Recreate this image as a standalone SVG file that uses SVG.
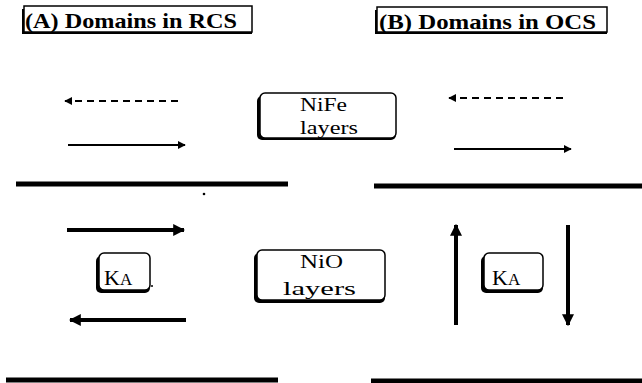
<svg xmlns="http://www.w3.org/2000/svg" width="642" height="383" viewBox="0 0 642 383">
<style>
text{font-family:"Liberation Serif","DejaVu Serif",serif;fill:#000}
.title{font-size:21px;font-weight:bold}
.lbl{font-size:19px}
.box{fill:#fff;stroke:#000;stroke-width:1.5}
.shadow{fill:#000}
.thin{stroke:#000;stroke-width:2;fill:none}
.thick{stroke:#000;stroke-width:4;fill:none}
.layer{stroke:#000;stroke-width:5;fill:none}
</style>
<defs>
<marker id="ah" viewBox="0 0 10 10" refX="9" refY="5" markerWidth="4" markerHeight="4" orient="auto" markerUnits="strokeWidth">
<path d="M0,0 L10,5 L0,10 z" fill="#000"/>
</marker>
<marker id="ahs" viewBox="0 0 10 10" refX="9" refY="5" markerWidth="3" markerHeight="3" orient="auto" markerUnits="strokeWidth">
<path d="M0,0 L10,5 L0,10 z" fill="#000"/>
</marker>
</defs>

<g id="titleA">
<rect x="22" y="9" width="230" height="25" class="shadow"/>
<rect x="24" y="6" width="228" height="26" class="box"/>
<text x="25" y="28" class="title" textLength="212" lengthAdjust="spacingAndGlyphs">(A) Domains in RCS</text>
</g>
<g id="titleB">
<rect x="375" y="10" width="232" height="24" class="shadow"/>
<rect x="377" y="7" width="230" height="25" class="box"/>
<text x="379" y="29" class="title" textLength="217" lengthAdjust="spacingAndGlyphs">(B) Domains in OCS</text>
</g>

<g id="nife">
<rect x="257" y="96" width="139" height="44" rx="5" class="shadow"/>
<rect x="260" y="93" width="136" height="45" rx="5" class="box"/>
<text x="300" y="111" class="lbl" textLength="47" lengthAdjust="spacingAndGlyphs">NiFe</text>
<text x="300" y="134" class="lbl" textLength="58" lengthAdjust="spacingAndGlyphs">layers</text>
</g>

<g id="nio">
<rect x="254" y="253" width="131" height="50" rx="5" class="shadow"/>
<rect x="257" y="250" width="128" height="50" rx="5" class="box"/>
<text x="300" y="268" class="lbl" textLength="43" lengthAdjust="spacingAndGlyphs">NiO</text>
<text x="283" y="295" class="lbl" textLength="73" lengthAdjust="spacingAndGlyphs">layers</text>
</g>

<g id="kaA">
<rect x="96" y="256" width="54" height="37" rx="5" class="shadow"/>
<rect x="99" y="253" width="51" height="37" rx="5" class="box"/>
<text x="104" y="285" font-size="22">K<tspan font-size="17">A</tspan></text>
</g>

<g id="kaB">
<rect x="481" y="256" width="62" height="37" rx="5" class="shadow"/>
<rect x="484" y="253" width="59" height="37" rx="5" class="box"/>
<text x="492" y="285" font-size="22">K<tspan font-size="17">A</tspan></text>
</g>

<g id="layers">
<line x1="16" y1="184" x2="288" y2="184" class="layer"/>
<line x1="374" y1="186" x2="642" y2="186" class="layer"/>
<line x1="6" y1="380" x2="278" y2="380" class="layer"/>
<line x1="371" y1="381" x2="642" y2="381" class="layer"/>
</g>

<g id="connectors">
<line x1="178" y1="101" x2="65" y2="101" class="thin" stroke-dasharray="7,5" marker-end="url(#ah)"/>
<line x1="68" y1="145" x2="185" y2="145" class="thin" marker-end="url(#ah)"/>
<line x1="563" y1="98" x2="449" y2="98" class="thin" stroke-dasharray="7,5" marker-end="url(#ah)"/>
<line x1="454" y1="149" x2="571" y2="149" class="thin" marker-end="url(#ah)"/>
<line x1="67" y1="230" x2="184" y2="230" class="thick" marker-end="url(#ahs)"/>
<line x1="186" y1="320" x2="70" y2="320" class="thick" marker-end="url(#ahs)"/>
<line x1="456" y1="325" x2="456" y2="225" class="thick" marker-end="url(#ahs)"/>
<line x1="568" y1="225" x2="568" y2="325" class="thick" marker-end="url(#ahs)"/>
</g>

<circle cx="204" cy="194" r="1.3" fill="#000"/>
<circle cx="152" cy="286" r="1" fill="#000"/>
</svg>
